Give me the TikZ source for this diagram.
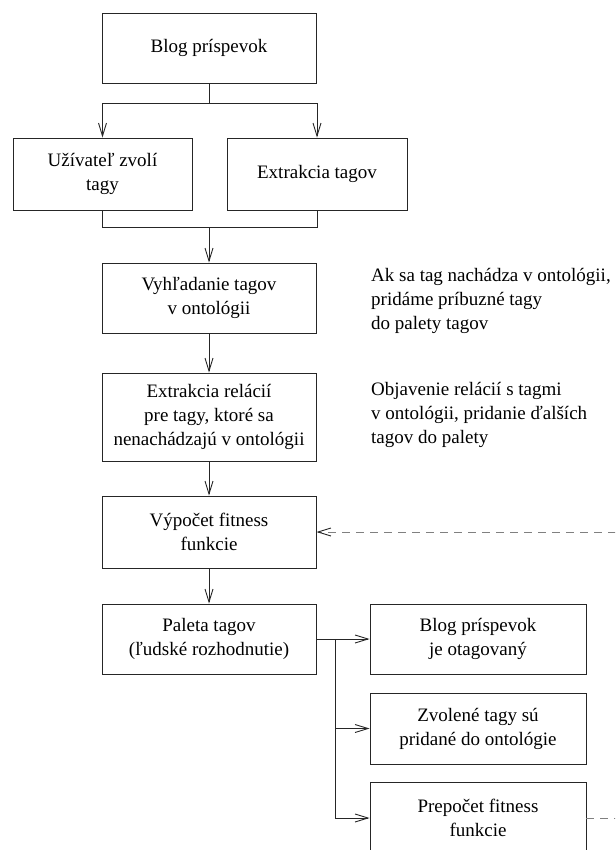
\documentclass[tikz,border=0pt]{standalone}
\usepackage{fontspec}
\setmainfont{Liberation Serif}
\usetikzlibrary{arrows.meta}
\begin{document}
\begin{tikzpicture}[x=1pt,y=-1pt,
  box/.style={draw=black!85, line width=0.9pt, align=center, minimum width=214pt, minimum height=70pt, inner sep=0pt, font=\fontsize{19}{24}\selectfont},
  ln/.style={draw=black!85, line width=0.9pt},
  arr/.style={ln, -{Straight Barb[length=13pt,width=8pt]}},
  dsh/.style={draw=black!50, line width=0.9pt, dash pattern=on 8pt off 6pt, -{Straight Barb[length=13pt,width=8pt,color=black!85]}},
  note/.style={anchor=west, align=left, inner sep=0pt, font=\fontsize{19}{24}\selectfont}]
\useasboundingbox (0,0) rectangle (615,850);
\clip (0,0) rectangle (615,850);
\node[box] (b1) at (209,48) {Blog príspevok};
\node[box, minimum width=179pt, minimum height=72pt] (u) at (102.5,174) {Užívateľ zvolí\\tagy};
\node[box, minimum width=180pt, minimum height=72pt] (e) at (317,174) {Extrakcia tagov};
\node[box] (v) at (209,298) {Vyhľadanie tagov\\v ontológii};
\node[box, minimum height=88pt] (r) at (209,417) {Extrakcia relácií\\pre tagy, ktoré sa\\nenachádzajú v ontológii};
\node[box, minimum height=72pt] (f) at (209,532) {Výpočet fitness\\funkcie};
\node[box] (p) at (209,639) {Paleta tagov\\(ľudské rozhodnutie)};
\node[box, minimum width=216pt] (o) at (478,639) {Blog príspevok\\je otagovaný};
\node[box, minimum width=216pt, minimum height=71pt] (z) at (478,728.5) {Zvolené tagy sú\\pridané do ontológie};
\node[box, minimum width=216pt, minimum height=72pt] (pr) at (478,818) {Prepočet fitness\\funkcie};
\node[note] (n1) at (371,301) {Ak sa tag nachádza v ontológii,\\pridáme príbuzné tagy\\do palety tagov};
\node[note] (n2) at (371,415) {Objavenie relácií s tagmi\\v ontológii, pridanie ďalších\\tagov do palety};
% connectors
\coordinate (s1) at (209,103);
\draw[ln] (b1.south) -- (s1);
\draw[arr] (s1) -| (u.north);
\draw[arr] (s1) -| (e.north);
\coordinate (j1) at (209,227);
\draw[ln] (u.south) |- (j1);
\draw[ln] (e.south) |- (j1);
\draw[arr] (j1) -- (v.north);
\draw[arr] (v.south) -- (r.north);
\draw[arr] (r.south) -- (f.north);
\draw[arr] (f.south) -- (p.north);
\draw[arr] (p.east) -- (o.west);
\coordinate (t1) at (335,639);
\draw[arr] (t1) |- (z.west);
\draw[arr] (t1) |- (pr.west);
\coordinate (d1) at (640,818);
\coordinate (d2) at (640,532);
\draw[dsh] (pr.east) -- (d1) -- (d2) -- (f.east);
\end{tikzpicture}
\end{document}
